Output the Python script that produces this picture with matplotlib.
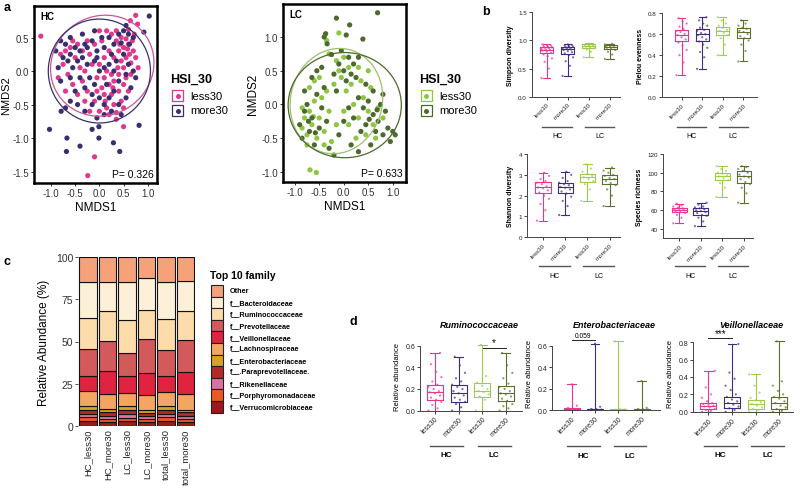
import numpy as np
import matplotlib
matplotlib.use('Agg')
import matplotlib.pyplot as plt
from matplotlib.patches import Ellipse, Rectangle
from matplotlib.lines import Line2D
import matplotlib.transforms as mtrans

plt.rcParams['font.family'] = ['Liberation Sans', 'DejaVu Sans']
plt.rcParams['axes.unicode_minus'] = False

# ---------------- data: panel a (NMDS) ----------------
hc_less30 = np.array([
    (0.35, 0.45), (0.45, 0.5), (0.55, 0.48), (0.6, 0.4), (0.68, 0.45), (0.5, 0.35), (0.4, 0.3),
    (0.62, 0.25), (0.7, 0.3), (0.55, 0.2), (0.45, 0.15), (0.3, 0.2), (0.65, 0.12), (0.5, 0.05),
    (0.38, 0.05), (0.72, 0.55), (0.25, 0.55), (0.15, 0.6), (0.05, 0.45), (0.2, 0.3), (0.1, 0.2),
    (0.0, 0.1), (0.15, 0.0), (0.25, -0.05), (0.3, -0.15), (0.2, -0.2), (0.05, -0.25), (-0.05, -0.1),
    (0.1, -0.35), (0.25, -0.35), (0.4, -0.3), (0.5, -0.2), (0.55, -0.1), (0.65, -0.05), (0.6, -0.3),
    (0.45, -0.45), (0.3, -0.5), (0.15, -0.55), (0.0, -0.6), (0.2, -0.65), (0.35, -0.62), (0.5, -0.55),
    (-0.1, -0.45), (-0.25, -0.3), (-0.35, -0.15), (-0.4, 0.05), (-0.5, 0.2), (-0.6, 0.35), (-0.7, 0.3),
    (-0.8, 0.25), (-0.75, 0.1), (-0.65, -0.05), (-0.55, -0.2), (-0.45, -0.35), (-0.3, -0.45),
    (-0.2, -0.6), (-0.35, 0.3), (-0.2, 0.25), (-0.1, 0.4), (-0.25, 0.45), (-0.45, 0.4), (-0.55, 0.45),
    (-0.15, 0.1), (-0.3, 0.0), (0.75, 0.2), (0.8, 0.05), (0.0, 0.6), (-0.05, -0.3), (0.1, -0.1),
    (0.4, -0.05), (0.35, 0.6), (0.6, 0.62), (-0.85, -0.1), (-0.7, -0.3), (0.58, 0.33), (0.42, 0.4),
    (0.28, -0.25), (0.12, -0.45), (-1.21, 0.52), (0.75, 0.83), (0.79, 0.70), (0.64, 0.75),
    (0.5, -0.83), (-0.1, -1.28), (-0.24, -1.56), (0.35, -0.72)])
hc_more30 = np.array([
    (0.92, 0.58), (1.03, 0.82), (0.55, 0.68), (0.7, 0.5), (0.6, 0.55), (0.45, 0.42), (0.3, 0.4),
    (0.2, 0.5), (0.1, 0.35), (-0.05, 0.3), (-0.15, 0.45), (-0.3, 0.4), (-0.4, 0.3), (-0.5, 0.35),
    (-0.6, 0.25), (-0.7, 0.4), (-0.75, 0.2), (-0.85, 0.05), (-0.8, -0.15), (-0.65, 0.15), (-0.55, 0.05),
    (-0.45, 0.15), (-0.35, 0.2), (-0.25, 0.1), (-0.1, 0.15), (0.0, 0.0), (0.1, 0.05), (0.2, 0.1),
    (0.35, 0.15), (0.5, 0.25), (0.6, 0.1), (0.7, 0.0), (0.55, -0.05), (0.4, -0.15), (0.3, -0.3),
    (0.2, -0.4), (0.1, -0.5), (0.0, -0.4), (-0.1, -0.2), (-0.2, -0.1), (-0.3, -0.25), (-0.4, -0.1),
    (-0.5, -0.3), (-0.6, -0.45), (-0.7, -0.55), (-0.45, -0.5), (-0.3, -0.6), (-0.15, -0.5),
    (-0.05, -0.7), (0.1, -0.65), (0.25, -0.6), (0.4, -0.5), (0.55, -0.4), (0.65, -0.25), (0.75, -0.1),
    (-0.9, 0.3), (-0.8, 0.45), (-0.6, 0.5), (-0.35, 0.55), (-0.1, 0.6), (0.05, 0.5), (0.4, 0.55),
    (0.5, 0.6), (0.25, 0.25), (-0.15, -0.35), (0.15, -0.2), (-0.25, 0.35), (0.45, -0.65),
    (-0.05, 0.2), (0.3, 0.0), (-0.6, -0.1), (0.62, 0.4),
    (-1.03, -0.87), (-0.67, -1.0), (-0.68, -1.2), (-0.4, -1.12), (0.29, -1.07), (0.42, -1.2),
    (0.82, -0.81), (-0.01, -1.0), (-0.15, -0.87), (-0.01, -0.83), (-0.79, -0.6)])
lc_less30 = np.array([
    (-0.85, -0.35), (-0.8, -0.2), (-0.75, -0.45), (-0.7, -0.1), (-0.65, -0.3), (-0.6, 0.05),
    (-0.55, -0.5), (-0.5, -0.2), (-0.45, 0.1), (-0.4, -0.4), (-0.35, 0.2), (-0.3, -0.1), (-0.6, 0.35),
    (-0.7, 0.25), (-0.5, 0.4), (-0.75, -0.6), (-0.4, -0.6), (-0.2, 0.3), (-0.1, 0.5), (-0.15, 0.65),
    (0.0, 0.7), (-0.05, 0.4), (0.05, 0.2), (0.1, 0.55), (-0.1, 1.06), (-0.3, 0.75), (0.2, 0.0),
    (0.3, -0.2), (0.4, 0.1), (0.5, -0.1), (0.6, -0.3), (0.7, -0.05), (0.55, 0.25), (0.35, 0.35),
    (0.8, -0.2), (0.25, -0.5), (0.45, -0.45), (0.1, -0.3), (0.0, -0.1), (-0.15, -0.3), (-0.25, -0.55),
    (0.65, -0.5), (0.15, 0.3), (0.3, 0.55), (0.5, 0.5), (-0.85, -0.05), (-0.62, -0.18),
    (-0.69, -0.97), (-0.56, -1.01), (-0.35, 0.95)])
lc_more30 = np.array([
    (0.69, 1.36), (-0.15, 1.28), (0.12, 1.18), (-0.37, 1.05), (-0.34, 0.9), (0.05, 1.03), (0.39, 0.97),
    (-0.25, 0.74), (-0.4, 1.0), (-0.9, -0.3), (-0.85, -0.5), (-0.8, -0.1), (-0.75, 0.0), (-0.7, -0.4),
    (-0.65, -0.2), (-0.6, -0.6), (-0.55, 0.15), (-0.5, -0.35), (-0.45, -0.05), (-0.4, 0.25),
    (-0.35, -0.25), (-0.65, 0.4), (-0.55, 0.5), (-0.45, 0.55), (-0.8, 0.2), (-0.3, -0.65),
    (-0.2, -0.75), (-0.2, 0.45), (-0.1, 0.6), (0.0, 0.5), (0.1, 0.7), (-0.05, 0.8), (0.05, 0.35),
    (-0.15, 0.2), (0.15, 0.45), (0.2, 0.6), (0.3, 0.7), (0.25, 0.4), (0.3, 0.1), (0.4, -0.05),
    (0.5, 0.05), (0.6, -0.15), (0.7, -0.25), (0.75, 0.0), (0.85, -0.1), (0.9, -0.35), (1.0, -0.4),
    (1.05, -0.45), (0.95, -0.55), (0.8, -0.45), (0.65, -0.4), (0.55, -0.6), (0.45, -0.3), (0.35, -0.4),
    (0.2, -0.2), (0.1, -0.05), (0.0, -0.25), (-0.1, -0.45), (0.15, -0.6), (0.3, -0.7), (0.6, 0.2),
    (0.45, 0.3), (0.8, 0.15), (-0.72, -0.25), (-0.58, -0.42), (0.68, -0.08), (0.52, -0.22)])
# ellipse: centre x, centre y, width, height, angle
hc_ell_less30 = [0.06, 0.08, 2.14, 1.50, 5]
hc_ell_more30 = [0.0, 0.0, 2.11, 1.55, 0]
lc_ell_less30 = [-0.15, 0.05, 1.90, 1.55, 10]
lc_ell_more30 = [0.02, -0.01, 2.31, 1.56, 0]
hc_p = 'P= 0.326'
lc_p = 'P= 0.633'

# ---------------- data: panel b (alpha diversity) ----------------
groups = ['less30', 'more30', 'less30', 'more30']
# whislo, q1, med, q3, whishi
simpson_box = [[0.33, 0.77, 0.83, 0.88, 0.93], [0.37, 0.76, 0.84, 0.88, 0.93],
               [0.70, 0.87, 0.90, 0.93, 0.95], [0.67, 0.85, 0.89, 0.92, 0.94]]
pielou_box = [[0.21, 0.53, 0.59, 0.64, 0.75], [0.27, 0.53, 0.60, 0.65, 0.76],
              [0.40, 0.59, 0.63, 0.67, 0.76], [0.34, 0.56, 0.62, 0.66, 0.73]]
shannon_box = [[0.80, 2.15, 2.40, 2.65, 3.10], [1.07, 2.15, 2.42, 2.62, 3.15],
               [1.75, 2.65, 2.88, 3.05, 3.50], [1.50, 2.55, 2.80, 3.00, 3.35]]
richness_box = [[46, 58, 60, 62, 67], [43, 55, 59, 62, 68],
                [74, 92, 96, 100, 107], [68, 89, 96, 102, 107]]
simpson_pts = [[0.33, 0.5, 0.62, 0.68, 0.72, 0.75, 0.78, 0.8, 0.82, 0.83, 0.84, 0.85, 0.86, 0.87, 0.88, 0.89, 0.9, 0.91, 0.92, 0.93],
               [0.37, 0.55, 0.63, 0.7, 0.74, 0.77, 0.79, 0.81, 0.83, 0.84, 0.85, 0.86, 0.87, 0.88, 0.89, 0.9, 0.91, 0.92, 0.93],
               [0.7, 0.8, 0.84, 0.86, 0.88, 0.89, 0.9, 0.91, 0.92, 0.93, 0.94],
               [0.67, 0.75, 0.8, 0.83, 0.85, 0.87, 0.88, 0.89, 0.9, 0.91, 0.92, 0.93, 0.94]]
pielou_pts = [[0.21, 0.33, 0.4, 0.45, 0.49, 0.52, 0.55, 0.57, 0.59, 0.6, 0.62, 0.63, 0.65, 0.67, 0.7, 0.72, 0.75],
              [0.27, 0.38, 0.43, 0.47, 0.5, 0.53, 0.55, 0.57, 0.59, 0.6, 0.61, 0.63, 0.64, 0.66, 0.68, 0.7, 0.73, 0.76],
              [0.4, 0.5, 0.56, 0.59, 0.61, 0.63, 0.64, 0.66, 0.68, 0.7, 0.73, 0.76],
              [0.34, 0.44, 0.5, 0.54, 0.56, 0.58, 0.6, 0.62, 0.63, 0.65, 0.66, 0.68, 0.7, 0.73]]
shannon_pts = [[0.8, 1.3, 1.6, 1.85, 2.0, 2.15, 2.25, 2.35, 2.4, 2.45, 2.55, 2.62, 2.7, 2.8, 2.95, 3.1],
               [1.07, 1.5, 1.75, 1.95, 2.1, 2.2, 2.3, 2.38, 2.42, 2.5, 2.55, 2.62, 2.7, 2.85, 3.0, 3.15],
               [1.75, 2.3, 2.55, 2.7, 2.8, 2.88, 2.95, 3.05, 3.15, 3.3, 3.5],
               [1.5, 2.0, 2.3, 2.5, 2.6, 2.7, 2.8, 2.85, 2.95, 3.0, 3.1, 3.2, 3.35]]
richness_pts = [[46, 52, 55, 57, 58, 59, 60, 60, 61, 62, 63, 64, 65, 67],
                [43, 48, 52, 54, 55, 57, 58, 59, 60, 61, 62, 63, 64, 66, 68],
                [74, 84, 89, 92, 94, 96, 97, 99, 100, 102, 104, 107],
                [68, 78, 84, 88, 90, 93, 95, 96, 98, 100, 102, 104, 106, 107]]

# ---------------- data: panel c (top 10 family) ----------------
samples = ['HC_less30', 'HC_more30', 'LC_less30', 'LC_more30', 'total_less30', 'total_more30']
families = ['Other', 'f__Bacteroidaceae', 'f__Ruminococcaceae', 'f__Prevotellaceae',
            'f__Veillonellaceae', 'f__Lachnospiraceae', 'f__Enterobacteriaceae',
            'f__.Paraprevotellaceae.', 'f__Rikenellaceae', 'f__Porphyromonadaceae',
            'f__Verrucomicrobiaceae']
other = [14.9, 14.5, 14.5, 12.3, 14.9, 13.9]
bacteroidaceae = [21.3, 17.6, 22.5, 19.0, 21.7, 17.8]
ruminococcaceae = [18.3, 17.8, 19.8, 17.2, 18.6, 17.4]
prevotellaceae = [16.2, 17.8, 13.9, 20.4, 15.5, 19.0]
veillonellaceae = [8.9, 13.3, 10.1, 12.9, 9.5, 13.3]
lachnospiraceae = [8.9, 9.1, 7.7, 9.1, 8.3, 9.1]
enterobacteriaceae = [2.0, 2.0, 2.4, 1.6, 2.2, 1.6]
paraprevotellaceae = [2.4, 2.0, 2.2, 1.6, 2.2, 2.0]
rikenellaceae = [2.1, 1.9, 2.1, 1.9, 2.1, 1.9]
porphyromonadaceae = [2.0, 1.6, 2.0, 1.6, 2.0, 1.6]
verrucomicrobiaceae = [3.0, 2.4, 2.8, 2.4, 3.0, 2.4]
fam_colors = ['#f5a27a', '#fdf0d8', '#fcdcaa', '#d35a5a', '#e0243f', '#f3a661',
              '#d6a51f', '#b22a2a', '#dc70a0', '#ea5a20', '#9b1a1a']

# ---------------- data: panel d (relative abundance) ----------------
rumino_box = [[0.0, 0.10, 0.17, 0.235, 0.535], [0.0, 0.08, 0.16, 0.24, 0.50],
              [0.0, 0.13, 0.18, 0.255, 0.61], [0.0, 0.09, 0.16, 0.225, 0.535]]
entero_box = [[0.0, 0.0, 0.005, 0.02, 0.24], [0.0, 0.0, 0.003, 0.01, 0.62],
              [0.0, 0.0, 0.003, 0.01, 0.64], [0.0, 0.0, 0.003, 0.01, 0.27]]
veillon_box = [[0.0, 0.03, 0.07, 0.105, 0.47], [0.0, 0.04, 0.10, 0.17, 0.78],
               [0.0, 0.03, 0.09, 0.135, 0.43], [0.0, 0.03, 0.10, 0.17, 0.81]]
rumino_pts = [[0.0, 0.02, 0.05, 0.08, 0.1, 0.12, 0.14, 0.16, 0.17, 0.18, 0.2, 0.22, 0.24, 0.27, 0.31, 0.36, 0.43, 0.535],
              [0.0, 0.03, 0.06, 0.08, 0.1, 0.12, 0.14, 0.16, 0.18, 0.2, 0.22, 0.24, 0.27, 0.3, 0.35, 0.42, 0.5],
              [0.0, 0.1, 0.13, 0.15, 0.17, 0.18, 0.2, 0.23, 0.26, 0.32, 0.61],
              [0.0, 0.02, 0.04, 0.06, 0.09, 0.11, 0.13, 0.15, 0.16, 0.18, 0.2, 0.22, 0.25, 0.3, 0.35, 0.42, 0.535]]
entero_pts = [[0.0, 0.0, 0.003, 0.005, 0.01, 0.02, 0.04, 0.24],
              [0.0, 0.0, 0.002, 0.004, 0.008, 0.01, 0.03, 0.62],
              [0.0, 0.0, 0.002, 0.005, 0.01, 0.64],
              [0.0, 0.0, 0.002, 0.004, 0.008, 0.01, 0.02, 0.27]]
veillon_pts = [[0.0, 0.01, 0.02, 0.03, 0.05, 0.06, 0.07, 0.08, 0.09, 0.1, 0.12, 0.16, 0.2, 0.28, 0.47],
               [0.0, 0.02, 0.04, 0.06, 0.08, 0.1, 0.12, 0.14, 0.17, 0.2, 0.25, 0.3, 0.38, 0.45, 0.78],
               [0.0, 0.02, 0.03, 0.05, 0.07, 0.09, 0.11, 0.13, 0.16, 0.22, 0.3, 0.43],
               [0.0, 0.01, 0.03, 0.05, 0.07, 0.1, 0.12, 0.15, 0.17, 0.2, 0.24, 0.3, 0.35, 0.81]]

pink, purple, lgreen, dgreen = '#e8368f', '#3f2a86', '#9ccc4a', '#5b6f2c'
box_colors = [pink, purple, lgreen, dgreen]

W, H = 800, 489
fig = plt.figure(figsize=(8, 4.89), dpi=100)


def add_ax(l, t, r, b):
    # axes from pixel box (left, top, right, bottom)
    return fig.add_axes([l / W, 1 - b / H, (r - l) / W, (b - t) / H])


def ftext(x, y, s, **kw):
    return fig.text(x / W, 1 - y / H, s, **kw)


def frect(l, t, r, b, **kw):
    fig.add_artist(Rectangle((l / W, 1 - b / H), (r - l) / W, (b - t) / H,
                             transform=fig.transFigure, **kw))


def fdot(x, y, c, ms):
    fig.add_artist(Line2D([x / W], [1 - y / H], marker='o', ms=ms, color=c, mec='none',
                          transform=fig.transFigure))


# ---------------- panel a ----------------
def nmds(ax, less, more, ell_less, ell_more, c_less, c_more, ec_less, ec_more, tag, ptxt):
    ax.scatter(less[:, 0], less[:, 1], s=14, color=c_less, edgecolors='none', zorder=3)
    ax.scatter(more[:, 0], more[:, 1], s=14, color=c_more, edgecolors='none', zorder=3)
    for e, ec in ((ell_less, ec_less), (ell_more, ec_more)):
        ax.add_patch(Ellipse((e[0], e[1]), e[2], e[3], angle=e[4], fill=False, ec=ec, lw=0.9, zorder=4))
    for s in ax.spines.values():
        s.set_linewidth(1.8)
    ax.tick_params(labelsize=7, length=2.5, width=0.7, colors='#333333', pad=1)
    ax.set_xticks([-1.0, -0.5, 0.0, 0.5, 1.0])
    ax.set_xlabel('NMDS1', fontsize=8.5, labelpad=2)
    ax.set_ylabel('NMDS2', fontsize=8.5, labelpad=1.5)
    ax.text(0.05, 0.97, tag, transform=ax.transAxes, fontsize=7, fontweight='bold', va='top')
    ax.text(0.97, 0.025, ptxt, transform=ax.transAxes, fontsize=7.5, ha='right', va='bottom')


ax_hc = add_ax(34, 7, 157, 184)
nmds(ax_hc, hc_less30, hc_more30, hc_ell_less30, hc_ell_more30,
     '#e2388c', '#3a2f6e', '#c9559a', '#3a2f6e', 'HC', hc_p)
ax_hc.set_xlim(-1.35, 1.19)
ax_hc.set_ylim(-1.67, 0.97)
ax_hc.set_yticks([-1.5, -1.0, -0.5, 0.0, 0.5])
ax_hc.set_ylabel('NMDS2', fontsize=8, labelpad=1.5)
ax_hc.yaxis.set_label_coords(-0.185, 0.5)

ax_lc = add_ax(283, 5, 406, 183)
nmds(ax_lc, lc_less30, lc_more30, lc_ell_less30, lc_ell_more30,
     '#8dc641', '#4c6a2e', '#9dbf6a', '#4c6a2e', 'LC', lc_p)
ax_lc.set_xlim(-1.24, 1.27)
ax_lc.set_ylim(-1.15, 1.49)
ax_lc.set_yticks([-1.0, -0.5, 0.0, 0.5, 1.0])

# legends of panel a
for x0, cols in ((170, ('#e2388c', '#3a2f6e')), (419, ('#8dc641', '#4c6a2e'))):
    ftext(x0, 80, 'HSI_30', fontsize=9, fontweight='bold', va='center')
    for k, (lab, c) in enumerate(zip(['less30', 'more30'], cols)):
        y0 = 91 + k * 15
        frect(x0 + 2, y0, x0 + 13, y0 + 11, fc='white', ec=c, lw=0.9)
        fdot(x0 + 7.5, y0 + 5.5, c, 3.6)
        ftext(x0 + 20, y0 + 5.5, lab, fontsize=8, va='center')

ftext(4, 8, 'a', fontsize=9, fontweight='bold', va='center')
ftext(482, 12, 'b', fontsize=9, fontweight='bold', va='center')
ftext(4, 262, 'c', fontsize=9, fontweight='bold', va='center')
ftext(350, 322, 'd', fontsize=9, fontweight='bold', va='center')


# ---------------- box plot helper (panels b, d) ----------------
def jitter(n, width):
    k = np.arange(n)
    return ((k * 7) % 11 / 10.0 - 0.5) * width * 0.8


def boxes(ax, stats, pts, width, fs, line_dy, text_dy, gfs, gbold):
    for i, (st, p, c) in enumerate(zip(stats, pts, box_colors)):
        pos = i + 1
        ax.scatter(pos + jitter(len(p), width), p, s=2.5, color=c, alpha=0.7,
                   edgecolors='none', zorder=2, clip_on=False)
        d = dict(whislo=st[0], q1=st[1], med=st[2], q3=st[3], whishi=st[4], fliers=[])
        ax.bxp([d], positions=[pos], widths=width, showfliers=False, capwidths=width * 0.55,
               boxprops=dict(color=c, lw=0.8), whiskerprops=dict(color=c, lw=0.8),
               capprops=dict(color=c, lw=0.8), medianprops=dict(color=c, lw=0.8),
               manage_ticks=False, zorder=3)
    ax.set_xticks([1, 2, 3, 4])
    ax.set_xticklabels(groups, rotation=45, ha='right', rotation_mode='anchor', fontsize=fs)
    for s in ('top', 'right'):
        ax.spines[s].set_visible(False)
    for s in ('left', 'bottom'):
        ax.spines[s].set_linewidth(0.7)
        ax.spines[s].set_color('#444444')
    ax.tick_params(labelsize=fs, length=2, width=0.6, pad=1.5, colors='#222222')
    tr_line = mtrans.blended_transform_factory(ax.transData, ax.transAxes) + \
        mtrans.ScaledTranslation(0, -line_dy / 100, fig.dpi_scale_trans)
    tr_text = mtrans.blended_transform_factory(ax.transData, ax.transAxes) + \
        mtrans.ScaledTranslation(0, -text_dy / 100, fig.dpi_scale_trans)
    for a, b, lab in ((0.8, 2.2, 'HC'), (2.8, 4.2, 'LC')):
        ax.plot([a, b], [0, 0], color='#555555', lw=1, transform=tr_line, clip_on=False)
        ax.text((a + b) / 2, 0, lab, transform=tr_text, ha='center', va='center', fontsize=gfs,
                fontweight='bold' if gbold else 'normal')


# ---------------- panel b ----------------
ax_si = add_ax(531.7, 13.3, 620, 97.7)
boxes(ax_si, simpson_box, simpson_pts, 0.62, 4.5, 30, 38.5, 5, False)
ax_si.set_xlim(0.29, 4.47)
ax_si.set_ylim(0, 1.5)
ax_si.set_yticks([0, 0.5, 1.0, 1.5])
ax_si.set_yticklabels(['0.0', '0.5', '1.0', '1.5'])
ax_si.set_ylabel('Simpson diversity', fontsize=5, fontweight='bold', labelpad=3)

ax_pi = add_ax(661.7, 14, 756.7, 98.3)
boxes(ax_pi, pielou_box, pielou_pts, 0.62, 4.5, 30, 38.5, 5, False)
ax_pi.set_xlim(0.04, 4.64)
ax_pi.set_ylim(0, 0.8)
ax_pi.set_yticks([0, 0.2, 0.4, 0.6, 0.8])
ax_pi.set_yticklabels(['0.0', '0.2', '0.4', '0.6', '0.8'])
ax_pi.set_ylabel('Pielou evenness', fontsize=5, fontweight='bold', labelpad=3)

ax_sh = add_ax(527, 155, 620, 238.3)
boxes(ax_sh, shannon_box, shannon_pts, 0.68, 4.5, 28.5, 38.5, 5, False)
ax_sh.set_xlim(0.28, 4.47)
ax_sh.set_ylim(0, 4)
ax_sh.set_yticks([0, 1, 2, 3, 4])
ax_sh.set_ylabel('Shannon diversity', fontsize=5, fontweight='bold', labelpad=3)

ax_sr = add_ax(662.7, 155, 753, 239.3)
boxes(ax_sr, richness_box, richness_pts, 0.68, 4.5, 27.5, 37.5, 5, False)
ax_sr.set_xlim(0.24, 4.41)
ax_sr.set_ylim(30, 120)
ax_sr.set_yticks([40, 60, 80, 100, 120])
ax_sr.set_ylabel('Species richness', fontsize=5, fontweight='bold', labelpad=3)

# ---------------- panel c ----------------
ax_c = add_ax(78.25, 258.3, 195.25, 426.7)
stack = [verrucomicrobiaceae, porphyromonadaceae, rikenellaceae, paraprevotellaceae,
         enterobacteriaceae, lachnospiraceae, veillonellaceae, prevotellaceae,
         ruminococcaceae, bacteroidaceae, other]
stack_colors = fam_colors[::-1]
xpos = np.arange(len(samples))
bottom = np.zeros(len(samples))
for vals, c in zip(stack, stack_colors):
    ax_c.bar(xpos, vals, bottom=bottom, width=0.92, color=c, edgecolor='#111111', linewidth=0.8)
    bottom += np.array(vals)
ax_c.set_xlim(-0.5, 5.5)
ax_c.set_ylim(0, 100)
ax_c.set_yticks([0, 25, 50, 75, 100])
ax_c.set_xticks(xpos)
ax_c.set_xticklabels(samples, rotation=90, fontsize=6.8, color='#222222')
for s in ax_c.spines.values():
    s.set_visible(False)
ax_c.tick_params(axis='y', labelsize=7.5, length=2.5, width=0.6, pad=1, colors='#333333')
ax_c.tick_params(axis='x', length=0, pad=2)
ax_c.set_ylabel('Relative Abundance (%)', fontsize=8.5, labelpad=4)

ftext(210, 276, 'Top 10 family', fontsize=7.5, fontweight='bold', va='center')
for k, (lab, c) in enumerate(zip(families, fam_colors)):
    y0 = 286 + k * 11.6
    frect(210.7, y0, 223.3, y0 + 11.6, fc=c, ec='#222222', lw=0.8)
    ftext(230, y0 + 5.8, lab, fontsize=5.2, fontweight='bold', va='center')

# ---------------- panel d ----------------
ax_ru = add_ax(420, 341.6, 522, 411.5)
boxes(ax_ru, rumino_box, rumino_pts, 0.68, 5, 35.2, 44.5, 5.8, True)
ax_ru.set_xlim(0.37, 4.68)
ax_ru.set_ylim(0, 0.65)
ax_ru.set_yticks([0, 0.2, 0.4, 0.6])
ax_ru.set_yticklabels(['0.0', '0.2', '0.4', '0.6'])
ax_ru.spines['left'].set_bounds(0, 0.6)
ax_ru.set_ylabel('Relative abundance', fontsize=5.5, labelpad=3)
ax_ru.plot([3, 4], [0.585, 0.585], color='#222222', lw=0.7)
ax_ru.text(3.5, 0.59, '*', ha='center', va='bottom', fontsize=7)

ax_en = add_ax(552, 336, 660, 411)
boxes(ax_en, entero_box, entero_pts, 0.68, 5, 35.7, 45, 5.8, True)
ax_en.set_xlim(0.15, 4.79)
ax_en.set_ylim(0, 0.7)
ax_en.set_yticks([0, 0.2, 0.4, 0.6])
ax_en.set_yticklabels(['0.0', '0.2', '0.4', '0.6'])
ax_en.spines['left'].set_bounds(0, 0.6)
ax_en.set_ylabel('Relative abundance', fontsize=5.5, labelpad=3)
ax_en.plot([1, 2], [0.655, 0.655], color='#222222', lw=0.7)
ax_en.text(1.5, 0.665, '0.059', ha='center', va='bottom', fontsize=4.8)

ax_ve = add_ax(693, 334.6, 793, 412.7)
boxes(ax_ve, veillon_box, veillon_pts, 0.68, 5, 34, 43.3, 5.8, True)
ax_ve.set_xlim(0.35, 4.58)
ax_ve.set_ylim(0, 0.9)
ax_ve.set_yticks([0, 0.2, 0.4, 0.6, 0.8])
ax_ve.set_yticklabels(['0.0', '0.2', '0.4', '0.6', '0.8'])
ax_ve.spines['left'].set_bounds(0, 0.8)
ax_ve.set_ylabel('Relative abundance', fontsize=5.5, labelpad=3)
ax_ve.plot([1, 2], [0.845, 0.845], color='#222222', lw=0.7)
ax_ve.text(1.5, 0.85, '***', ha='center', va='bottom', fontsize=7)

for ax, name in ((ax_ru, 'Ruminococcaceae'), (ax_en, 'Enterobacteriaceae'), (ax_ve, 'Veillonellaceae')):
    x0, x1 = ax.get_position().x0, ax.get_position().x1
    fig.text((x0 + x1) / 2 + 0.01, 1 - 326 / H, name, ha='center', va='center', fontsize=6.5,
             fontweight='bold', fontstyle='italic')

fig.savefig('out.png', dpi=100)
